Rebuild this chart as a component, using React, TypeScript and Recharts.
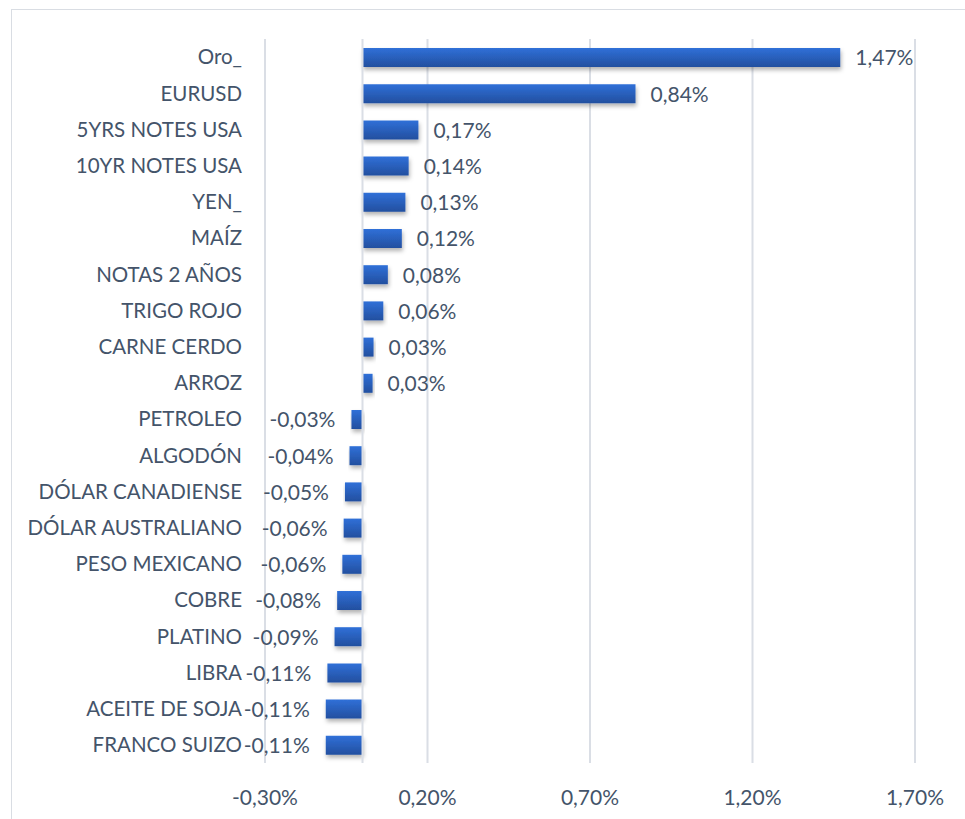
import React from "react";
import {
  BarChart,
  Bar,
  XAxis,
  YAxis,
  CartesianGrid,
  ReferenceLine,
  LabelList,
} from "recharts";

// categories, top to bottom
const categories = [
  "Oro_",
  "EURUSD",
  "5YRS NOTES USA",
  "10YR NOTES USA",
  "YEN_",
  "MAÍZ",
  "NOTAS 2 AÑOS",
  "TRIGO ROJO",
  "CARNE CERDO",
  "ARROZ",
  "PETROLEO",
  "ALGODÓN",
  "DÓLAR CANADIENSE",
  "DÓLAR AUSTRALIANO",
  "PESO MEXICANO",
  "COBRE",
  "PLATINO",
  "LIBRA",
  "ACEITE DE SOJA",
  "FRANCO SUIZO",
];

// weekly change in %
const changes = [
  1.47, 0.84, 0.172, 0.142, 0.132, 0.121, 0.078, 0.064, 0.034, 0.031,
  -0.034, -0.04, -0.054, -0.058, -0.062, -0.078, -0.086, -0.108, -0.113,
  -0.113,
];

const xTicks = [-0.3, 0.2, 0.7, 1.2, 1.7];

const data = categories.map((name, i) => ({ name, value: changes[i] }));

const FONT = "Lato, 'Open Sans', sans-serif";
const TEXT = "#44546a";
const GRID = "#dadee5";
const SIZE = 21;

const fmt = (v: number) => v.toFixed(2).replace(".", ",") + "%";

// value label at the outer end of each bar
const ValueLabel = (props: any) => {
  const { x, y, width, height, value } = props;
  const left = Math.min(x, x + width);
  const right = Math.max(x, x + width);
  const neg = value < 0;
  return (
    <text
      x={neg ? left - 16 : right + 15}
      y={y + height / 2}
      dy="0.38em"
      textAnchor={neg ? "end" : "start"}
      fill={TEXT}
      fontSize={SIZE}
      fontFamily={FONT}
    >
      {fmt(value)}
    </text>
  );
};

export default function App() {
  return (
    <div
      style={{
        position: "absolute",
        left: 11,
        top: 9,
        width: 970,
        height: 830,
        border: "1px solid #d9dde3",
        background: "#fff",
      }}
    >
      <BarChart
        width={950}
        height={813}
        data={data}
        layout="vertical"
        margin={{ top: 29, right: 47, bottom: 0, left: 0 }}
      >
        <defs>
          <linearGradient id="barFill" x1="0" y1="0" x2="0" y2="1">
            <stop offset="0%" stopColor="#3070d8" />
            <stop offset="100%" stopColor="#234f9f" />
          </linearGradient>
          <filter id="barShadow" x="-10%" y="-30%" width="130%" height="190%">
            <feDropShadow dx="1" dy="3" stdDeviation="2" floodColor="#000" floodOpacity="0.3" />
          </filter>
        </defs>
        <CartesianGrid horizontal={false} stroke={GRID} strokeWidth={2} />
        <XAxis
          type="number"
          domain={[-0.3, 1.7]}
          ticks={xTicks}
          tickFormatter={fmt}
          axisLine={false}
          tickLine={false}
          tickMargin={21}
          height={60}
          tick={{ fill: TEXT, fontSize: SIZE, fontFamily: FONT }}
        />
        <YAxis
          type="category"
          dataKey="name"
          width={253}
          axisLine={false}
          tickLine={false}
          tickMargin={17}
          interval={0}
          tick={{ fill: TEXT, fontSize: 20.5, fontFamily: FONT }}
        />
        <ReferenceLine x={0} stroke={GRID} strokeWidth={2} />
        <Bar
          dataKey="value"
          fill="url(#barFill)"
          barSize={19}
          filter="url(#barShadow)"
          isAnimationActive={false}
        >
          <LabelList dataKey="value" content={ValueLabel} />
        </Bar>
      </BarChart>
    </div>
  );
}
